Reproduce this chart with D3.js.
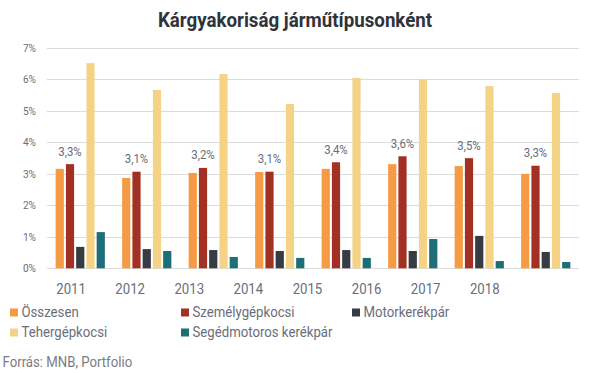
<!DOCTYPE html>
<html><head><meta charset="utf-8">
<script src="https://cdn.jsdelivr.net/npm/d3@7"></script>
<style>
html,body{margin:0;padding:0;background:#fff;}
svg{display:block;font-family:Roboto, "Noto Sans", sans-serif;}
</style></head>
<body><svg id="chart" width="589" height="373"></svg>
<script>
const years = ["2011","2012","2013","2014","2015","2016","2017","2018"];
const seriesNames = ["Összesen","Személygépkocsi","Motorkerékpár","Tehergépkocsi","Segédmotoros kerékpár"];
const seriesColors = ["#F59B45","#A33123","#363B44","#F5D386","#1E6E78"];
const osszesen = [3.16,2.87,3.03,3.06,3.16,3.31,3.25,3.00];
const szemely = [3.31,3.07,3.19,3.07,3.37,3.56,3.50,3.26];
const motor = [0.68,0.61,0.58,0.55,0.58,0.55,1.03,0.52];
const teher = [6.52,5.67,6.17,5.22,6.05,6.00,5.79,5.57];
const segedmotor = [1.15,0.55,0.36,0.33,0.33,0.93,0.23,0.20];
const yTicks = [0,1,2,3,4,5,6,7];
const title = "Kárgyakoriság járműtípusonként";
const source = "Forrás: MNB, Portfolio";

const seriesValues = [osszesen, szemely, motor, teher, segedmotor];
const textGray = "#6a6e7a";
const SX = 0.88; // horizontal text compression of the reference

const svg = d3.select("#chart");

function txt(g, x, y, s, opts, sx) {
  const t = g.append("text")
    .attr("transform", `translate(${x},${y}) scale(${sx || SX},1)`)
    .attr("x", 0).attr("y", 0)
    .text(s);
  for (const k in opts) t.attr(k, opts[k]);
  return t;
}

const y = d3.scaleLinear().domain([0, 7]).range([268.3, 48]);
const x0 = d3.scaleBand().domain(years).range([47, 579]).paddingInner(0.26).paddingOuter(0.13);
const x1 = d3.scaleBand().domain(d3.range(5)).range([0, x0.bandwidth()]).paddingInner(0.2);
const xLab = d3.scaleBand().domain(years).range([41.5, 514.3]);

// gridlines
svg.append("g").selectAll("line").data(yTicks).join("line")
  .attr("x1", 47).attr("x2", 579)
  .attr("y1", d => Math.round(y(d)) + 0.5).attr("y2", d => Math.round(y(d)) + 0.5)
  .attr("stroke", "#dcdcdc").attr("stroke-width", 1.2);

// y tick labels
const yg = svg.append("g");
yTicks.forEach(d => txt(yg, 36, y(d) + 4, d + "%", {"text-anchor":"end","font-size":"11.5px","fill":textGray}));

// bars
const groups = svg.append("g").selectAll("g").data(years).join("g")
  .attr("transform", d => `translate(${x0(d)},0)`);
groups.selectAll("rect").data((d, i) => seriesValues.map((s, k) => ({k, v: s[i]}))).join("rect")
  .attr("x", d => x1(d.k)).attr("width", x1.bandwidth())
  .attr("y", d => y(d.v)).attr("height", d => y(0) - y(d.v))
  .attr("fill", d => seriesColors[d.k]);

// value labels above Személygépkocsi bars
const fmt = v => d3.format(".1f")(v).replace(".", ",") + "%";
const lg = svg.append("g");
years.forEach((yr, i) => {
  txt(lg, x0(yr) + x1(1) + x1.bandwidth() / 2, y(szemely[i]) - 8.5, fmt(szemely[i]),
    {"text-anchor":"middle","font-size":"13px","fill":textGray});
});

// x labels
const xg = svg.append("g");
years.forEach(yr => txt(xg, xLab(yr) + xLab.bandwidth() / 2, 294, yr,
  {"text-anchor":"middle","font-size":"15px","fill":textGray}));

// title
txt(svg, 295, 27, title, {"text-anchor":"middle","font-size":"19.5px","font-weight":"bold","fill":"#2f333b"}, 0.96);

// legend
const legPos = [[10,317],[181,317],[352,317],[10,337],[181,337]];
const leg = svg.append("g");
seriesNames.forEach((n, k) => {
  const [lx, ly] = legPos[k];
  leg.append("rect").attr("x", lx).attr("y", ly - 8.5).attr("width", 8).attr("height", 8).attr("fill", seriesColors[k]);
  txt(leg, lx + 11.5, ly, n, {"font-size":"15px","fill":textGray});
});

// source
txt(svg, 2.5, 366.5, source, {"font-size":"15px","fill":"#7a7d85"});
</script>
</body></html>
